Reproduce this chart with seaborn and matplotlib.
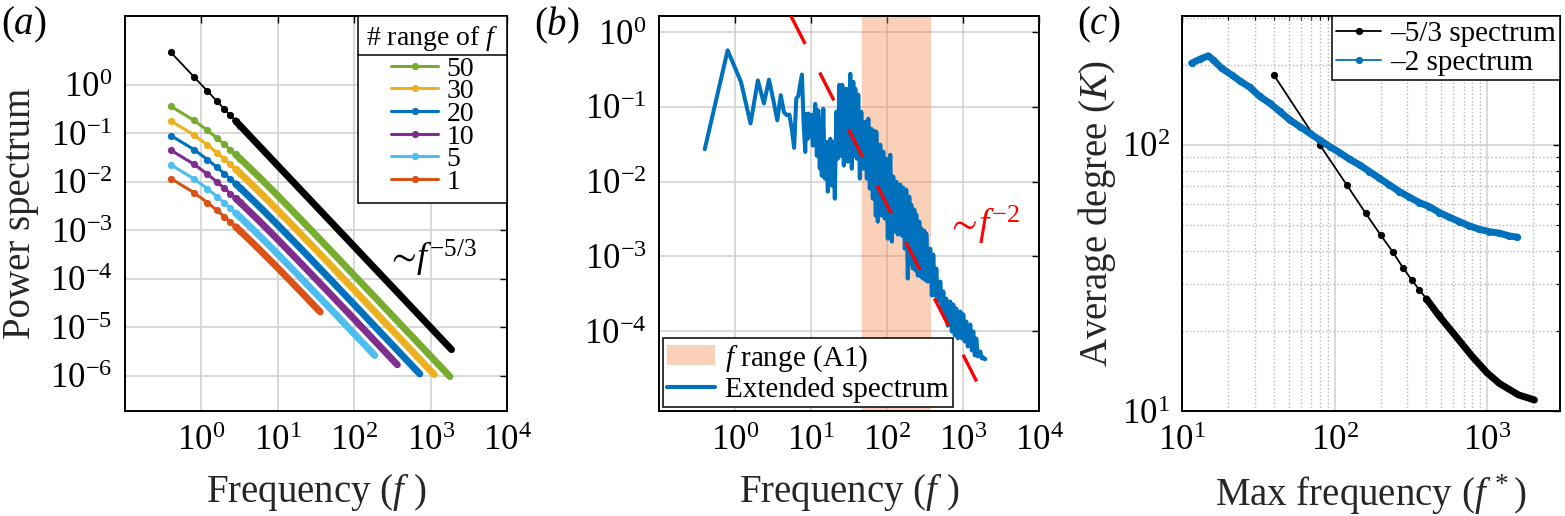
import matplotlib
matplotlib.use("Agg")
import matplotlib.pyplot as plt
import seaborn as sns
from matplotlib.ticker import LogLocator, NullLocator, NullFormatter, FixedLocator
from matplotlib.lines import Line2D
from matplotlib.patches import Patch

# ---------------- data: panel (a) ----------------
freq_a = [0.4, 0.8, 1.2, 1.6, 2.0, 2.4, 2.8, 3.2, 4, 6, 10, 20, 36, 50, 100, 186, 367, 723, 1114, 1791]
range_labels = ["50", "30", "20", "10", "5", "1"]
spec_50 = [0.357, 0.1841, 0.1148, 0.0794, 0.0588, 0.0456, 0.0365, 0.0301, 0.02153, 0.01157, 0.00516,
           0.001682, 6.41e-4, 3.73e-4, 1.182e-4, 4.22e-5, 1.36e-5, 4.41e-6, 2.14e-6, 9.71e-7]
spec_30 = [0.1785, 0.0920, 0.0574, 0.0397, 0.0294, 0.0228, 0.01826, 0.01503, 0.01076, 0.00578, 0.00258,
           8.41e-4, 3.21e-4, 1.86e-4, 5.91e-5, 2.11e-5, 6.80e-6, 2.20e-6, 1.07e-6]
spec_20 = [0.0893, 0.0460, 0.0287, 0.01987, 0.01470, 0.01139, 0.00913, 0.00752, 0.00538, 0.00289, 0.00129,
           4.21e-4, 1.60e-4, 9.32e-5, 2.96e-5, 1.054e-5, 3.40e-6, 1.10e-6]
spec_10 = [0.0446, 0.0230, 0.01435, 0.00993, 0.00735, 0.00570, 0.00457, 0.00376, 0.00269, 0.001446, 6.45e-4,
           2.10e-4, 8.01e-5, 4.66e-5, 1.48e-5, 5.27e-6, 1.70e-6]
spec_5 = [0.0223, 0.01150, 0.00717, 0.00496, 0.00368, 0.00285, 0.00228, 0.00188, 0.001345, 7.23e-4, 3.23e-4,
          1.051e-4, 4.01e-5, 2.33e-5, 7.39e-6, 2.64e-6]
spec_1 = [0.0116, 0.00598, 0.00373, 0.00258, 0.00191, 0.00148, 0.001187, 9.77e-4, 7.00e-4, 3.76e-4, 1.677e-4,
          5.46e-5, 2.08e-5]
freq_black = [0.4, 0.8, 1.2, 1.6, 2.0, 2.4, 2.8, 3.2, 10, 100, 1000, 1880]
spec_black = [4.61, 1.450, 0.738, 0.457, 0.315, 0.232, 0.180, 0.144, 0.0215, 4.64e-4, 1.0e-5, 3.49e-6]

# ---------------- data: panel (b) ----------------
freq_b = [0.4, 0.8, 1.2, 1.6, 2.0, 2.4, 2.8, 3.2, 3.6, 4.0, 4.4, 4.8, 5.2, 5.6, 6.0, 6.4, 6.8, 7.2, 7.6, 8.0, 8.4,
          8.68, 9.08, 9.21, 9.64, 10.09, 10.56, 11.39, 11.92, 12.48, 13.06, 13.26, 13.87, 14.51, 15.19, 15.90,
          16.64, 17.95, 18.78, 19.66, 20.57, 21.53, 22.52, 23.57, 24.67, 25.81, 27.02, 29.14, 30.50, 32.89,
          34.42, 36.03, 37.70, 38.28, 40.06, 41.92, 43.86, 45.89, 48.05, 51.83, 54.24, 56.75, 59.38, 62.14,
          65.05, 68.06, 71.22, 72.31, 75.66, 81.63, 85.44, 89.41, 93.57, 97.90, 102.4, 110.5, 115.7, 121.0,
          126.7, 132.6, 138.7, 149.6, 156.6, 163.9, 171.5, 179.5, 187.7, 196.5, 205.7, 208.8, 218.5, 228.7,
          239.3, 243.0, 254.3, 266.1, 278.4, 282.7, 296.0, 309.7, 324.1, 328.9, 344.2, 371.3, 388.6, 406.6,
          425.6, 445.5, 466.1, 502.9, 526.3, 550.8, 576.4, 603.1, 631.0, 680.7, 712.4, 745.6, 780.1, 816.3,
          854.3, 921.5, 964.3, 1009, 1056, 1105, 1157, 1248, 1306, 1366, 1430, 1496, 1566, 1689, 1768, 1850,
          1936, 1966]
spec_b = [0.0272, 0.570, 0.215, 0.060, 0.226, 0.111, 0.231, 0.122, 0.0662, 0.143, 0.0855, 0.0772, 0.0789, 0.050,
          0.0283, 0.129, 0.14, 0.20, 0.27, 0.06, 0.025,
          0.0809, 0.0375, 0.0816, 0.0415, 0.0785, 0.0303, 0.110, 0.0222, 0.090, 0.015, 0.0694, 0.0120, 0.0944,
          0.0110, 0.0342, 0.00735, 0.0375, 0.00885, 0.0342, 0.00593, 0.0861, 0.0203, 0.197, 0.0222, 0.197,
          0.0164, 0.175, 0.0185, 0.277, 0.0149, 0.216, 0.0222, 0.175, 0.0203, 0.145, 0.0110, 0.0861, 0.0149,
          0.0633, 0.0110, 0.0694, 0.00807, 0.0510, 0.00593, 0.048, 0.0035, 0.0465, 0.00292, 0.0312, 0.00352,
          0.0252, 0.00321, 0.0203, 0.00173, 0.0229, 0.00158, 0.0117, 0.00215, 0.0100, 0.00196, 0.00912,
          0.00190, 0.00832, 0.00127, 0.00782, 5.07e-4, 0.00631, 8.04e-4, 0.00493, 6.89e-4, 0.00423, 6.48e-4,
          0.00362, 5.56e-4, 0.00292, 5.39e-4, 0.00236, 5.07e-4, 0.00222, 4.77e-4, 0.00202, 4.62e-4, 0.00127,
          3.01e-4, 0.00106, 3.01e-4, 6.89e-4, 2.50e-4, 4.62e-4, 2.02e-4, 3.40e-4, 1.63e-4, 2.74e-4, 1.19e-4,
          2.50e-4, 9.93e-5, 2.28e-4, 8.79e-5, 2.02e-4, 8.02e-5, 1.84e-4, 8.02e-5, 1.68e-4, 7.31e-5, 1.35e-4,
          6.27e-5, 1.23e-4, 5.54e-5, 9.93e-5, 4.75e-5, 8.02e-5, 4.61e-5, 5.37e-5, 4.34e-5, 4.47e-5, 4.21e-5,
          4.27e-5]
fit_f = [5.45, 1510]
fit_s = [1.64, 2.14e-5]
frange_a1 = [47, 380]

# ---------------- data: panel (c) ----------------
fmax_53 = [40, 80, 120, 160, 200, 240, 280, 320, 360, 400, 480, 600, 800, 1000, 1200, 1600, 2040]
deg_53 = [183, 100, 70.8, 55.3, 45.9, 39.7, 34.6, 31.1, 28.5, 26.4, 22.9, 19.6, 16.0, 13.9, 12.7, 11.5, 11.0]
fmax_2 = [11.57, 13.11, 14.86, 16.03, 18.16, 21.12, 23.93, 27.82, 32.35, 37.60, 43.71, 50.81, 59.05, 68.64,
          79.8, 92.8, 107.8, 125.3, 145.7, 169.3, 196.8, 228.8, 265.9, 309.2, 359.4, 417.8, 485.7, 564.5,
          656.2, 762.9, 886.6, 1031, 1198, 1393, 1579]
deg_2 = [202.8, 209.9, 216.1, 208.7, 194.2, 183.3, 174.0, 164.7, 152.0, 143.4, 133.5, 124.2, 117.2, 110.6,
         104.4, 98.6, 93.6, 88.3, 84.1, 79.4, 74.9, 70.7, 66.8, 63.6, 60.7, 58.6, 55.7, 53.5, 51.5, 49.6,
         48.2, 47.2, 46.6, 45.5, 45.0]

# ---------------- style ----------------
sns.set_theme(style="white")
plt.rcParams["font.family"] = ["Liberation Serif", "DejaVu Serif"]
plt.rcParams["mathtext.fontset"] = "custom"
plt.rcParams["mathtext.rm"] = "Liberation Serif"
plt.rcParams["mathtext.it"] = "Liberation Serif:italic"
plt.rcParams["mathtext.fallback"] = "stix"
plt.rcParams["axes.edgecolor"] = "black"
plt.rcParams["text.color"] = "black"
plt.rcParams["xtick.color"] = "black"
plt.rcParams["ytick.color"] = "black"

C_GREEN, C_YELLOW, C_BLUE = "#77AC30", "#EDB120", "#0072BD"
C_PURPLE, C_LBLUE, C_RED = "#7E2F8E", "#4DBEEE", "#D95319"
SHADE = (0.961, 0.541, 0.314, 0.40)

TICK_FS = 25
LABEL_FS = 28

fig = plt.figure(figsize=(15.65, 5.16), dpi=100)
fig.patch.set_facecolor("white")
W, H = 1565.0, 516.0


def make_axes(left, right, top=16, bottom=411):
    return fig.add_axes([left / W, 1 - bottom / H, (right - left) / W, (bottom - top) / H])


def style(ax, minor=False):
    ax.set_xscale("log")
    ax.set_yscale("log")
    ax.set_facecolor("white")
    for s in ax.spines.values():
        s.set_visible(True)
        s.set_color("black")
        s.set_linewidth(1.4)
    ax.tick_params(which="both", direction="in", top=True, right=True, color="black")
    ax.tick_params(which="major", length=5, width=1.0, labelsize=TICK_FS)
    ax.tick_params(axis="x", which="major", pad=10)
    ax.tick_params(axis="y", which="major", pad=9)
    ax.tick_params(which="minor", length=3, width=0.8)
    ax.grid(True, which="major", color="#d2d2d2", lw=1.2, ls="-")
    if not minor:
        ax.xaxis.set_minor_locator(NullLocator())
        ax.yaxis.set_minor_locator(NullLocator())
    ax.set_axisbelow(True)


# ================= panel (a) =================
ax_a = make_axes(125, 507)
style(ax_a)
series_a = [spec_50, spec_30, spec_20, spec_10, spec_5, spec_1]
colors_a = [C_GREEN, C_YELLOW, C_BLUE, C_PURPLE, C_LBLUE, C_RED]
handles_a = []
for spec, col, lab in zip(series_a, colors_a, range_labels):
    n = len(spec)
    sns.lineplot(x=freq_a[:n][6:], y=spec[6:], ax=ax_a, color=col, lw=5.0, sort=False,
                 estimator=None, solid_capstyle="round", legend=False)
    sns.lineplot(x=freq_a[:8], y=spec[:8], ax=ax_a, color=col, lw=2.2, marker="o",
                 markersize=5.2, markeredgewidth=0, markeredgecolor=col, sort=False,
                 estimator=None, legend=False)
    handles_a.append(Line2D([], [], color=col, lw=2.2, marker="o", markersize=5.2,
                            markeredgewidth=0, label=lab))
sns.lineplot(x=freq_black[6:], y=spec_black[6:], ax=ax_a, color="black", lw=5.0, sort=False,
             estimator=None, solid_capstyle="round", legend=False)
sns.lineplot(x=freq_black[:8], y=spec_black[:8], ax=ax_a, color="black", lw=1.3, marker="o",
             markersize=5.2, markeredgewidth=0, markeredgecolor="black", sort=False,
             estimator=None, legend=False)
ax_a.set_xlim(0.1, 1e4)
ax_a.set_ylim(1.9e-7, 26)
ax_a.xaxis.set_major_locator(FixedLocator([1, 10, 100, 1000, 10000]))
ax_a.yaxis.set_major_locator(FixedLocator([1e-6, 1e-5, 1e-4, 1e-3, 1e-2, 1e-1, 1]))
ax_a.xaxis.set_minor_locator(NullLocator())
ax_a.yaxis.set_minor_locator(NullLocator())
ax_a.set_xlabel(r"Frequency ($f$ )", fontsize=LABEL_FS)
ax_a.set_ylabel("Power spectrum", fontsize=LABEL_FS)
ax_a.xaxis.set_label_coords(0.5, -0.155)
ax_a.yaxis.set_label_coords(-0.226, 0.5)
ax_a.text(0.682, 0.387, r"$\sim\!f^{-5/3}$", transform=ax_a.transAxes, fontsize=26,
          ha="left", va="center")
leg_a = ax_a.legend(handles=handles_a, loc="upper right", borderaxespad=0, fontsize=20,
                    title=r"# range of $f$", title_fontsize=20, frameon=True, fancybox=False,
                    framealpha=1, edgecolor="black", handlelength=1.7, handletextpad=0.3,
                    labelspacing=-0.1, borderpad=0.3)
leg_a.get_frame().set_linewidth(1.1)
leg_a._legend_box.sep = 2.0  # gap (points) between the title row and the entries

# ================= panel (b) =================
ax_b = make_axes(659, 1039)
style(ax_b)
ax_b.axvspan(frange_a1[0], frange_a1[1], facecolor=SHADE, edgecolor="none", zorder=1)
sns.lineplot(x=freq_b, y=spec_b, ax=ax_b, color=C_BLUE, lw=2.9, sort=False, estimator=None,
             legend=False, zorder=2)
sns.lineplot(x=fit_f, y=fit_s, ax=ax_b, color="red", lw=2.4, sort=False, estimator=None,
             legend=False, zorder=3, linestyle=(0, (9.4, 9.6)), dash_capstyle="butt")
ax_b.set_xlim(0.1, 1e4)
ax_b.set_ylim(8.6e-6, 1.64)
ax_b.xaxis.set_major_locator(FixedLocator([1, 10, 100, 1000, 10000]))
ax_b.yaxis.set_major_locator(FixedLocator([1e-4, 1e-3, 1e-2, 1e-1, 1]))
ax_b.xaxis.set_minor_locator(NullLocator())
ax_b.yaxis.set_minor_locator(NullLocator())
ax_b.set_xlabel(r"Frequency ($f$ )", fontsize=LABEL_FS)
ax_b.xaxis.set_label_coords(0.5, -0.155)
ax_b.text(0.755, 0.47, r"$\sim\!f^{-2}$", transform=ax_b.transAxes, fontsize=27, color="red",
          ha="left", va="center")
handles_b = [Patch(facecolor=SHADE, edgecolor="none", label=r"$f$ range (A1)"),
             Line2D([], [], color=C_BLUE, lw=3.0, label="Extended spectrum")]
leg_b = ax_b.legend(handles=handles_b, loc="lower left", borderaxespad=0.13, fontsize=21,
                    frameon=True, fancybox=False, framealpha=1, edgecolor="black",
                    handlelength=1.63, handletextpad=0.34, labelspacing=0.1, borderpad=0.15)
leg_b.get_frame().set_linewidth(1.1)

# ================= panel (c) =================
ax_c = make_axes(1182, 1560)
style(ax_c, minor=True)
ax_c.grid(True, which="minor", color="#b8b8b8", lw=1.0, ls=":")
sns.lineplot(x=fmax_53[9:], y=deg_53[9:], ax=ax_c, color="black", lw=5.0, sort=False,
             estimator=None, solid_capstyle="round", legend=False)
sns.lineplot(x=fmax_53[:11], y=deg_53[:11], ax=ax_c, color="black", lw=1.3, marker="o",
             markersize=5.2, markeredgewidth=0, markeredgecolor="black", sort=False,
             estimator=None, legend=False)
sns.lineplot(x=fmax_2, y=deg_2, ax=ax_c, color=C_BLUE, lw=5.0, sort=False, estimator=None,
             solid_capstyle="round", marker="o", markersize=5.2, markeredgewidth=0,
             markeredgecolor=C_BLUE, legend=False)
ax_c.set_xlim(10, 3000)
ax_c.set_ylim(10, 305)
ax_c.xaxis.set_major_locator(FixedLocator([10, 100, 1000]))
ax_c.yaxis.set_major_locator(FixedLocator([10, 100]))
ax_c.xaxis.set_minor_locator(LogLocator(base=10, subs=range(2, 10)))
ax_c.yaxis.set_minor_locator(LogLocator(base=10, subs=range(2, 10)))
ax_c.xaxis.set_minor_formatter(NullFormatter())
ax_c.yaxis.set_minor_formatter(NullFormatter())
ax_c.set_xlabel(r"Max frequency ($f^{\,*}$)", fontsize=LABEL_FS)
ax_c.set_ylabel(r"Average degree ($K$)", fontsize=LABEL_FS)
ax_c.xaxis.set_label_coords(0.5, -0.155)
ax_c.yaxis.set_label_coords(-0.168, 0.5)
handles_c = [Line2D([], [], color="black", lw=1.3, marker="o", markersize=5.2, markeredgewidth=0,
                    label="\u20135/3 spectrum"),
             Line2D([], [], color=C_BLUE, lw=1.3, marker="o", markersize=5.2, markeredgewidth=0,
                    label="\u20132 spectrum")]
leg_c = ax_c.legend(handles=handles_c, loc="upper right", borderaxespad=0, fontsize=21,
                    frameon=True, fancybox=False, framealpha=1, edgecolor="black",
                    handlelength=1.54, handletextpad=0.3, labelspacing=0.1, borderpad=0.15)
leg_c.get_frame().set_linewidth(1.1)

# panel letters
fig.text(24 / W, 1 - 25 / H, r"($a$)", fontsize=28, ha="center", va="center")
fig.text(557 / W, 1 - 25 / H, r"($b$)", fontsize=28, ha="center", va="center")
fig.text(1099 / W, 1 - 25 / H, r"($c$)", fontsize=28, ha="center", va="center")

# separator under legend title (a)
fig.canvas.draw()
rend = fig.canvas.get_renderer()
fb = leg_a.get_frame().get_window_extent(rend)
tb = leg_a.get_title().get_window_extent(rend)
inv = fig.transFigure.inverted()
ysep = tb.y0 - 1.5
p0 = inv.transform((fb.x0, ysep))
p1 = inv.transform((fb.x1, ysep))
fig.add_artist(Line2D([p0[0], p1[0]], [p0[1], p1[1]], transform=fig.transFigure,
                      color="black", lw=1.1))

fig.savefig("out.png", dpi=100, facecolor="white")
